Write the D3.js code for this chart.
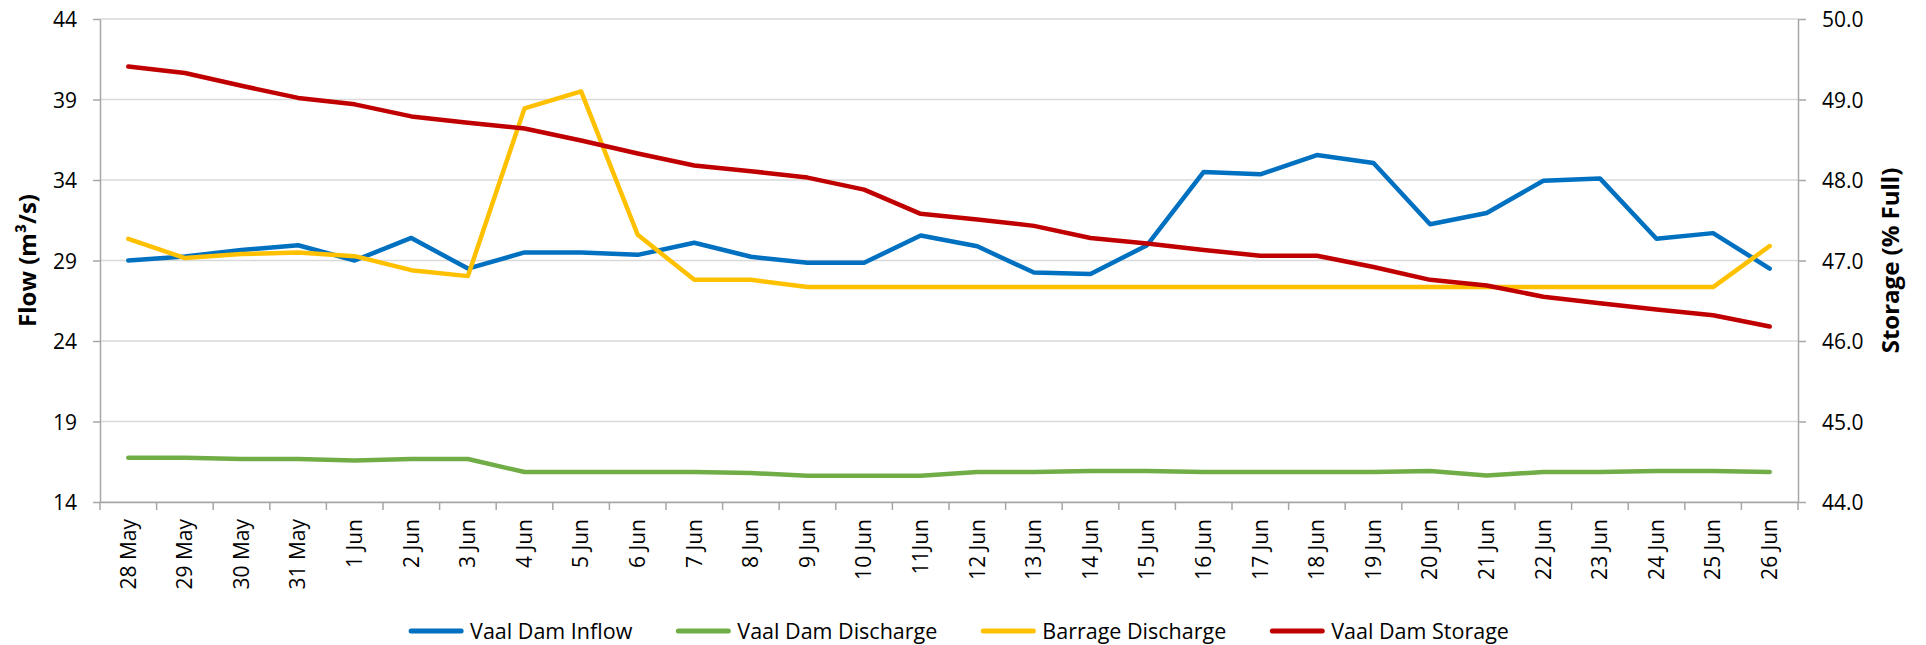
<!DOCTYPE html>
<html>
<head>
<meta charset="utf-8">
<script src="https://cdn.jsdelivr.net/npm/d3@7"></script>
<style>
  html, body { margin: 0; padding: 0; background: #ffffff; }
  svg { display: block; font-family: "Open Sans", "Noto Sans", sans-serif; }
</style>
</head>
<body>
<svg id="chart" width="1926" height="645"></svg>
<script>
const dates = ["28 May","29 May","30 May","31 May","1 Jun","2 Jun","3 Jun","4 Jun","5 Jun","6 Jun","7 Jun","8 Jun","9 Jun","10 Jun","11Jun","12 Jun","13 Jun","14 Jun","15 Jun","16 Jun","17 Jun","18 Jun","19 Jun","20 Jun","21 Jun","22 Jun","23 Jun","24 Jun","25 Jun","26 Jun"];

const vaalInflow = [29.0, 29.25, 29.65, 29.95, 29.0, 30.4, 28.5, 29.5, 29.5, 29.35, 30.1, 29.23, 28.86, 28.86, 30.55, 29.88, 28.25, 28.16, 29.95, 34.5, 34.35, 35.55, 35.05, 31.25, 31.95, 33.95, 34.1, 30.35, 30.7, 28.5];
const vaalDischarge = [16.75, 16.75, 16.67, 16.67, 16.58, 16.67, 16.67, 15.86, 15.86, 15.86, 15.86, 15.8, 15.63, 15.63, 15.63, 15.86, 15.86, 15.92, 15.92, 15.86, 15.86, 15.86, 15.86, 15.92, 15.65, 15.86, 15.86, 15.92, 15.92, 15.86];
const barrageDischarge = [30.35, 29.15, 29.4, 29.5, 29.27, 28.4, 28.03, 38.45, 39.5, 30.6, 27.8, 27.8, 27.35, 27.35, 27.35, 27.35, 27.35, 27.35, 27.35, 27.35, 27.35, 27.35, 27.35, 27.35, 27.35, 27.35, 27.35, 27.35, 27.35, 29.9];
const vaalStorage = [49.41, 49.33, 49.17, 49.02, 48.94, 48.79, 48.71, 48.64, 48.49, 48.33, 48.18, 48.11, 48.03, 47.88, 47.58, 47.51, 47.43, 47.28, 47.21, 47.13, 47.06, 47.06, 46.92, 46.76, 46.69, 46.55, 46.47, 46.39, 46.32, 46.18];

const flowTicks = [14, 19, 24, 29, 34, 39, 44];
const storageTicks = [44, 45, 46, 47, 48, 49, 50];

const seriesNames = ["Vaal Dam Inflow", "Vaal Dam Discharge", "Barrage Discharge", "Vaal Dam Storage"];
const seriesColors = ["#0070C0", "#70AD47", "#FFC000", "#C00000"];

(function draw() {
const svg = d3.select("#chart");
const pL = 100, pR = 1798, pT = 19, pB = 502;

const x = d3.scaleBand().domain(dates).range([pL, pR]).paddingInner(0).paddingOuter(0);
const yL = d3.scaleLinear().domain([14, 44]).range([pB, pT]);
const yR = d3.scaleLinear().domain([44, 50]).range([pB, pT]);
const cx = d => x(d) + x.bandwidth() / 2;

// gridlines
svg.append("g").selectAll("line").data(flowTicks).join("line")
  .attr("x1", pL).attr("x2", pR)
  .attr("y1", d => yL(d)).attr("y2", d => yL(d))
  .attr("stroke", "#d9d9d9").attr("stroke-width", 1.5);

// left axis
const gL = svg.append("g").attr("transform", `translate(${pL},0)`)
  .call(d3.axisLeft(yL).tickValues(flowTicks).tickSizeInner(7).tickSizeOuter(0).tickPadding(16).tickFormat(d3.format("d")));
// right axis
const gR = svg.append("g").attr("transform", `translate(${pR},0)`)
  .call(d3.axisRight(yR).tickValues(storageTicks).tickSizeInner(8).tickSizeOuter(0).tickPadding(16).tickFormat(d3.format(".1f")));
// bottom axis (labels)
const gB = svg.append("g").attr("transform", `translate(0,${pB})`)
  .call(d3.axisBottom(x).tickSize(0).tickPadding(0));
gB.selectAll(".tick text")
  .attr("transform", "rotate(-90)")
  .attr("text-anchor", "end")
  .attr("x", -17).attr("y", 0).attr("dy", "0.35em");
// bottom boundary ticks
const edges = dates.map(d => x(d)).concat([x.range()[1]]);
gB.append("g").selectAll("line").data(edges).join("line")
  .attr("x1", d => d).attr("x2", d => d).attr("y1", 0).attr("y2", 8)
  .attr("stroke", "#a6a6a6").attr("stroke-width", 1.5);

[gL, gR, gB].forEach(g => {
  g.selectAll(".domain").attr("stroke", "#a6a6a6").attr("stroke-width", 1.5);
  g.selectAll(".tick line").attr("stroke", "#a6a6a6").attr("stroke-width", 1.5);
  g.selectAll(".tick text").attr("fill", "#000").style("font-size", "21px").style("font-family", "'Open Sans', sans-serif");
});
gL.selectAll(".tick text").attr("dy", "0.36em");
gR.selectAll(".tick text").attr("dy", "0.36em");

// lines
const lineL = d3.line().x((d, i) => cx(dates[i])).y(d => yL(d));
const lineR = d3.line().x((d, i) => cx(dates[i])).y(d => yR(d));
const seriesData = [vaalInflow, vaalDischarge, barrageDischarge, vaalStorage];
seriesData.forEach((s, k) => {
  svg.append("path").datum(s)
    .attr("d", k === 3 ? lineR : lineL)
    .attr("fill", "none")
    .attr("stroke", seriesColors[k])
    .attr("stroke-width", 4.5)
    .attr("stroke-linejoin", "round")
    .attr("stroke-linecap", "round");
});

// axis titles
svg.append("text")
  .attr("transform", `translate(36,${(pT + pB) / 2}) rotate(-90)`)
  .attr("text-anchor", "middle")
  .style("font-size", "24px").style("font-weight", "bold").attr("fill", "#000")
  .text("Flow (m³/s)");
svg.append("text")
  .attr("transform", `translate(1899,${(pT + pB) / 2}) rotate(-90)`)
  .attr("text-anchor", "middle")
  .style("font-size", "24px").style("font-weight", "bold").attr("fill", "#000")
  .text("Storage (% Full)");

// legend
const legend = svg.append("g");
const lineLen = 50, gapText = 9, gapItem = 46, legY = 631;
let cursor = 0;
seriesNames.forEach((name, k) => {
  const g = legend.append("g");
  g.append("line").attr("x1", 0).attr("x2", lineLen).attr("y1", legY).attr("y2", legY)
    .attr("stroke", seriesColors[k]).attr("stroke-width", 5).attr("stroke-linecap", "round");
  const t = g.append("text").attr("x", lineLen + gapText).attr("y", legY).attr("dy", "0.35em")
    .style("font-size", "21.5px").attr("fill", "#000").text(name);
  const w = lineLen + gapText + t.node().getComputedTextLength();
  g.attr("transform", `translate(${cursor},0)`);
  cursor += w + gapItem;
});
const totalW = cursor - gapItem;
legend.attr("transform", `translate(${960 - totalW / 2},0)`);
})();
</script>
</body>
</html>
